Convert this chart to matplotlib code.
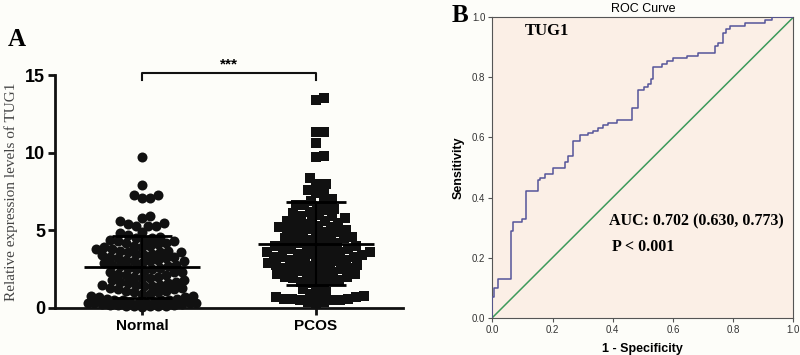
import numpy as np
import matplotlib
matplotlib.use("Agg")
import matplotlib.pyplot as plt

# ---------------- data ----------------
groups = ["Normal", "PCOS"]
normal_vals = [9.7, 7.9, 7.3, 7.3, 7.1, 7.1, 5.9, 5.8, 5.6, 5.5, 5.4, 5.3, 5.3, 5.3,
               4.9, 4.8, 4.7, 4.6, 4.5, 4.5,
               4.4, 4.4, 4.3, 4.3, 4.2, 4.2, 4.1, 4.0, 4.0,
               3.9, 3.9, 3.8, 3.8, 3.7, 3.7, 3.6, 3.6, 3.6, 3.5, 3.5,
               3.4, 3.4, 3.3, 3.3, 3.2, 3.2, 3.1, 3.1, 3.0, 3.0, 3.0,
               2.9, 2.9, 2.8, 2.8, 2.7, 2.7, 2.6, 2.6, 2.5, 2.5,
               2.4, 2.3, 2.3, 2.3, 2.2, 2.1, 2.1, 2.0, 2.0,
               1.9, 1.9, 1.8, 1.8, 1.7, 1.7, 1.6, 1.6, 1.5, 1.5, 1.5,
               1.4, 1.4, 1.3, 1.3, 1.2, 1.2, 1.1, 1.1, 1.0, 1.0,
               0.9, 0.9, 0.8, 0.8, 0.7, 0.7, 0.6, 0.6, 0.5, 0.5, 0.5, 0.5,
               0.4, 0.4, 0.4, 0.35, 0.3, 0.3, 0.3, 0.3, 0.25, 0.25, 0.2, 0.2, 0.2,
               0.15, 0.15, 0.1, 0.1, 0.1, 0.05]
pcos_vals = [13.5, 13.4, 11.3, 11.3, 10.6, 9.8, 9.7, 8.4, 8.0, 8.0, 7.6, 7.5, 7.4,
             7.0, 6.9, 6.8, 6.6, 6.6, 6.5, 6.4,
             6.3, 6.2, 6.1, 6.0, 5.9, 5.9, 5.8, 5.7,
             5.6, 5.6, 5.5, 5.5, 5.4, 5.3, 5.2, 5.2, 5.1, 5.0, 5.0,
             4.9, 4.9, 4.8, 4.8, 4.7, 4.6, 4.6, 4.5, 4.5, 4.4, 4.3, 4.3, 4.2, 4.2,
             4.1, 4.0, 4.0,
             3.9, 3.9, 3.8, 3.8, 3.8, 3.7, 3.6, 3.6, 3.6, 3.5, 3.5, 3.4, 3.4,
             3.3, 3.3, 3.3, 3.2, 3.2, 3.1, 3.1, 3.0, 3.0,
             2.9, 2.9, 2.8, 2.8, 2.8, 2.7, 2.6, 2.6, 2.6, 2.5, 2.5,
             2.4, 2.4, 2.3, 2.2, 2.2, 2.1, 2.1, 2.0, 2.0,
             1.9, 1.9, 1.8, 1.8, 1.7, 1.6, 1.5,
             1.3, 1.2, 1.0,
             0.9, 0.8, 0.8, 0.7, 0.7, 0.6, 0.6, 0.6, 0.5, 0.5, 0.5, 0.4, 0.4, 0.3]
y_ticks_a = [0, 5, 10, 15]
sig_label = "***"

roc_fpr = [0.0, 0.0, 0.007, 0.02, 0.061, 0.068, 0.10, 0.112, 0.153, 0.16, 0.174,
           0.203, 0.241, 0.252, 0.269, 0.291, 0.319, 0.336, 0.352, 0.369, 0.385,
           0.413, 0.465, 0.485, 0.504, 0.518, 0.526, 0.535, 0.563, 0.579, 0.601,
           0.646, 0.684, 0.74, 0.751, 0.767, 0.778, 0.79, 0.839, 0.906, 0.928, 1.0]
roc_tpr = [0.0, 0.07, 0.10, 0.13, 0.289, 0.32, 0.328, 0.423, 0.457, 0.466, 0.479,
           0.498, 0.517, 0.537, 0.587, 0.607, 0.614, 0.622, 0.633, 0.641, 0.648,
           0.657, 0.698, 0.757, 0.768, 0.779, 0.796, 0.834, 0.844, 0.853, 0.863,
           0.872, 0.881, 0.903, 0.914, 0.948, 0.961, 0.972, 0.981, 0.992, 1.0, 1.0]
roc_ticks = [0.0, 0.2, 0.4, 0.6, 0.8, 1.0]
auc_text = "AUC: 0.702 (0.630, 0.773)"
p_text = "P < 0.001"

# ---------------- figure ----------------
W, H = 800, 355
fig = plt.figure(figsize=(W / 100, H / 100), dpi=100, facecolor="#fdfdf9")

sans = ["Liberation Sans", "DejaVu Sans"]
serif = ["Liberation Serif", "DejaVu Serif"]

# ---- Panel A ----
axA = fig.add_axes([55 / W, (H - 308) / H, 348 / W, 233 / H])
axA.set_facecolor("none")
axA.set_xlim(-0.5, 1.5)
axA.set_ylim(0, 15)

px_per_x = 348 / 2.0
px_per_y = 233 / 15.0


def swarm(vals, d=8.0, maxw=54.0):
    order = np.argsort(vals)
    ys = np.asarray(vals, float) * px_per_y
    placed = []
    offs = np.zeros(len(vals))
    cand = [0.0]
    for k in range(1, int(maxw) + 1):
        cand += [k, -k]
    for i in order:
        y = ys[i]
        best, bestd = 0.0, -1
        chosen = None
        for c in cand:
            ok = True
            mind = 1e9
            for (px, py) in placed:
                dd = np.hypot(px - c, py - y)
                mind = min(mind, dd)
                if dd < d:
                    ok = False
            if ok:
                chosen = c
                break
            if mind > bestd:
                bestd, best = mind, c
        if chosen is None:
            chosen = best
        placed.append((chosen, y))
        offs[i] = chosen
    return offs / px_per_x


for gi, (vals, mk) in enumerate([(normal_vals, "o"), (pcos_vals, "s")]):
    xo = swarm(vals)
    axA.scatter(gi + xo, vals, marker=mk, s=52 if mk == "o" else 42,
                color="#111111", linewidths=0, zorder=3, clip_on=False)
    m = np.mean(vals)
    sd = np.std(vals, ddof=1)
    hw_m = 58 / px_per_x
    hw_s = 30 / px_per_x
    axA.plot([gi - hw_m, gi + hw_m], [m, m], color="black", lw=2, zorder=4,
             solid_capstyle="butt")
    for yy in (m - sd, m + sd):
        axA.plot([gi - hw_s, gi + hw_s], [yy, yy], color="black", lw=2, zorder=4,
                 solid_capstyle="butt")
    axA.plot([gi, gi], [max(m - sd, 0), m + sd], color="black", lw=1.5, zorder=4)

for s in ["top", "right"]:
    axA.spines[s].set_visible(False)
for s in ["left", "bottom"]:
    axA.spines[s].set_linewidth(2)
    axA.spines[s].set_color("#111111")
axA.set_yticks(y_ticks_a)
axA.set_yticklabels([str(t) for t in y_ticks_a], fontfamily=sans,
                    fontweight="bold", fontsize=13)
axA.set_xticks([0, 1])
axA.set_xticklabels(groups, fontfamily=sans, fontweight="bold", fontsize=11)
axA.tick_params(axis="both", direction="out", length=5, width=2, color="#111111")
axA.tick_params(axis="y", pad=2)
axA.tick_params(axis="x", pad=3)
axA.set_ylabel("Relative expression levels of TUG1", fontfamily=serif,
               fontsize=11, color="#444444", labelpad=5)

# significance bracket
yb, yt = 14.65, 15.1
axA.plot([0, 0, 1, 1], [yb, yt, yt, yb], color="#111111", lw=1.5, clip_on=False)
axA.text(0.5, 15.25, sig_label, ha="center", va="bottom", fontsize=11,
         fontweight="bold", fontfamily=sans)

fig.text(8 / W, 1 - 40 / H, "A", fontsize=18, fontweight="bold",
         fontfamily=serif, va="center", ha="left")

# ---- Panel B ----
axB = fig.add_axes([492.3 / W, (H - 317.7) / H, 301 / W, 300.4 / H])
axB.set_facecolor("#fbefe6")
axB.set_xlim(0, 1)
axB.set_ylim(0, 1)
axB.plot([0, 1], [0, 1], color="#3d9a5b", lw=1.1, zorder=2)
axB.plot(roc_fpr, roc_tpr, drawstyle="steps-post", color="#55559a", lw=1.1,
         zorder=3)
for s in axB.spines.values():
    s.set_color("#555555")
    s.set_linewidth(0.8)
axB.set_xticks(roc_ticks)
axB.set_yticks(roc_ticks)
axB.set_xticklabels([f"{t:.1f}" for t in roc_ticks], fontfamily=sans,
                    fontsize=7, color="#333333")
axB.set_yticklabels([f"{t:.1f}" for t in roc_ticks], fontfamily=sans,
                    fontsize=7, color="#333333")
axB.tick_params(direction="out", length=3, width=0.8, color="#555555", pad=2)
axB.set_xlabel("1 - Specificity", fontfamily=sans, fontweight="bold",
               fontsize=9, labelpad=6)
axB.set_ylabel("Sensitivity", fontfamily=sans, fontweight="bold",
               fontsize=9, labelpad=5)
axB.set_title("ROC Curve", fontfamily=sans, fontsize=9, pad=4)
axB.text(0.18, 0.955, "TUG1", transform=axB.transAxes, fontfamily=serif,
         fontweight="bold", fontsize=12, ha="center", va="center")
axB.text(0.387, 0.32, auc_text, transform=axB.transAxes, fontfamily=serif,
         fontweight="bold", fontsize=11.5, ha="left", va="center")
axB.text(0.397, 0.235, p_text, transform=axB.transAxes, fontfamily=serif,
         fontweight="bold", fontsize=11.5, ha="left", va="center")

fig.text(452 / W, 1 - 15 / H, "B", fontsize=18, fontweight="bold",
         fontfamily=serif, va="center", ha="left")

fig.savefig("out.png", dpi=100, facecolor=fig.get_facecolor())
